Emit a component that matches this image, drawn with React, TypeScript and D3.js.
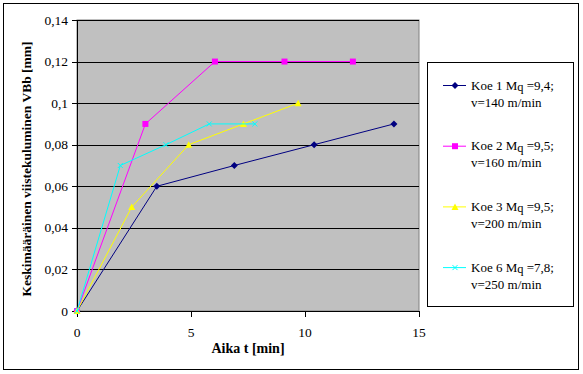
import React from "react";
import * as d3 from "d3";

// values
const xTicks = [0, 5, 10, 15];
const yTicks = [0, 0.02, 0.04, 0.06, 0.08, 0.1, 0.12, 0.14];

const koe1X = [0, 3.5, 6.9, 10.4, 13.9];
const koe1Y = [0, 0.06, 0.07, 0.08, 0.09];
const koe2X = [0, 3.0, 6.05, 9.1, 12.1];
const koe2Y = [0, 0.09, 0.12, 0.12, 0.12];
const koe3X = [0, 2.4, 4.9, 7.3, 9.7];
const koe3Y = [0, 0.05, 0.08, 0.09, 0.1];
const koe6X = [0, 1.9, 3.9, 5.8, 7.8];
const koe6Y = [0, 0.07, 0.08, 0.09, 0.09];

const seriesNames = ["Koe 1", "Koe 2", "Koe 3", "Koe 6"];
const seriesMq = ["=9,4;", "=9,5;", "=9,5;", "=7,8;"];
const seriesSpeed = ["v=140 m/min", "v=160 m/min", "v=200 m/min", "v=250 m/min"];

type Marker = "diamond" | "square" | "triangle" | "cross";

const SERIES = [
  { x: koe1X, y: koe1Y, color: "#000080", marker: "diamond" as Marker },
  { x: koe2X, y: koe2Y, color: "#FF00FF", marker: "square" as Marker },
  { x: koe3X, y: koe3Y, color: "#FFFF00", marker: "triangle" as Marker },
  { x: koe6X, y: koe6Y, color: "#00FFFF", marker: "cross" as Marker },
];

const FONT = '"Liberation Serif", "Times New Roman", Times, serif';

function MarkerShape({ type, cx, cy, color }: { type: Marker; cx: number; cy: number; color: string }) {
  if (type === "diamond") {
    const s = 3.5;
    return <path d={`M${cx},${cy - s}L${cx + s},${cy}L${cx},${cy + s}L${cx - s},${cy}Z`} fill={color} />;
  }
  if (type === "square") {
    return <rect x={cx - 3} y={cy - 3} width={6} height={6} fill={color} />;
  }
  if (type === "triangle") {
    return <path d={`M${cx},${cy - 3.5}L${cx + 3.5},${cy + 3}L${cx - 3.5},${cy + 3}Z`} fill={color} />;
  }
  const s = 2.5;
  return (
    <path
      d={`M${cx - s},${cy - s}L${cx + s},${cy + s}M${cx + s},${cy - s}L${cx - s},${cy + s}`}
      stroke={color}
      strokeWidth={1}
      fill="none"
    />
  );
}

export default function App() {
  const width = 583;
  const height = 374;
  const plot = { left: 77, top: 20, right: 419, bottom: 311 };

  const xScale = d3.scaleLinear().domain([0, 15]).range([plot.left, plot.right]);
  const yScale = d3.scaleLinear().domain([0, 0.14]).range([plot.bottom, plot.top]);

  const fmt = (v: number) => (v === 0 ? "0" : d3.format(".2~f")(v).replace(".", ","));

  const line = d3
    .line<[number, number]>()
    .x((d) => xScale(d[0]))
    .y((d) => yScale(d[1]));

  const legendX = 427;
  const legendY = 62;

  return (
    <svg
      width={width}
      height={height}
      style={{ position: "absolute", left: 0, top: 0, background: "#fff", fontFamily: FONT }}
    >
      <rect x={3.5} y={3.5} width={575} height={366} fill="#fff" stroke="#000" strokeWidth={1} />

      {/* plot area */}
      <rect
        x={plot.left}
        y={plot.top}
        width={plot.right - plot.left}
        height={plot.bottom - plot.top}
        fill="#C0C0C0"
        stroke="#808080"
        strokeWidth={1}
      />
      {yTicks.map((t) => (
        <line
          key={"g" + t}
          x1={plot.left}
          x2={plot.right}
          y1={Math.round(yScale(t)) + 0.5}
          y2={Math.round(yScale(t)) + 0.5}
          stroke="#000"
        />
      ))}

      {/* axes */}
      <line x1={plot.left + 0.5} x2={plot.left + 0.5} y1={plot.top} y2={plot.bottom} stroke="#000" />
      <line x1={plot.left} x2={plot.right} y1={plot.bottom + 0.5} y2={plot.bottom + 0.5} stroke="#000" />
      {yTicks.map((t) => (
        <g key={"y" + t}>
          <line
            x1={plot.left - 5}
            x2={plot.left}
            y1={Math.round(yScale(t)) + 0.5}
            y2={Math.round(yScale(t)) + 0.5}
            stroke="#000"
          />
          <text x={plot.left - 9} y={yScale(t) + 4.5} textAnchor="end" fontSize={13.5}>
            {fmt(t)}
          </text>
        </g>
      ))}
      {xTicks.map((t) => (
        <g key={"x" + t}>
          <line
            x1={Math.round(xScale(t)) + 0.5}
            x2={Math.round(xScale(t)) + 0.5}
            y1={plot.bottom}
            y2={plot.bottom + 6}
            stroke="#000"
          />
          <text x={xScale(t)} y={337} textAnchor="middle" fontSize={13.5}>
            {t}
          </text>
        </g>
      ))}

      {/* series */}
      {SERIES.map((s, i) => {
        const pts = s.x.map((x, j) => [x, s.y[j]] as [number, number]);
        return (
          <g key={"s" + i}>
            <path d={line(pts) || ""} fill="none" stroke={s.color} strokeWidth={1} />
            {pts.map((p, j) => (
              <MarkerShape key={j} type={s.marker} cx={xScale(p[0])} cy={yScale(p[1])} color={s.color} />
            ))}
          </g>
        );
      })}

      {/* axis titles */}
      <text x={248} y={353} textAnchor="middle" fontSize={14} fontWeight="bold">
        Aika t [min]
      </text>
      <text
        transform={`translate(31,169) rotate(-90)`}
        textAnchor="middle"
        fontSize={13.5}
        fontWeight="bold"
      >
        Keskimääräinen viistekuluminen VBb [mm]
      </text>

      {/* legend */}
      <rect x={legendX + 0.5} y={legendY + 0.5} width={146} height={244} fill="#fff" stroke="#000" />
      {SERIES.map((s, i) => {
        const cy = 85.5 + i * 60.7;
        return (
          <g key={"l" + i}>
            <line x1={443} x2={466} y1={cy} y2={cy} stroke={s.color} />
            <MarkerShape type={s.marker} cx={455} cy={cy} color={s.color} />
            <text x={471} y={cy + 4} fontSize={13}>
              {seriesNames[i]} M
              <tspan dy={1.5} fontSize={12.5}>q</tspan>
              <tspan dy={-1.5}> {seriesMq[i]}</tspan>
            </text>
            <text x={471} y={cy + 21} fontSize={13}>
              {seriesSpeed[i]}
            </text>
          </g>
        );
      })}
    </svg>
  );
}
